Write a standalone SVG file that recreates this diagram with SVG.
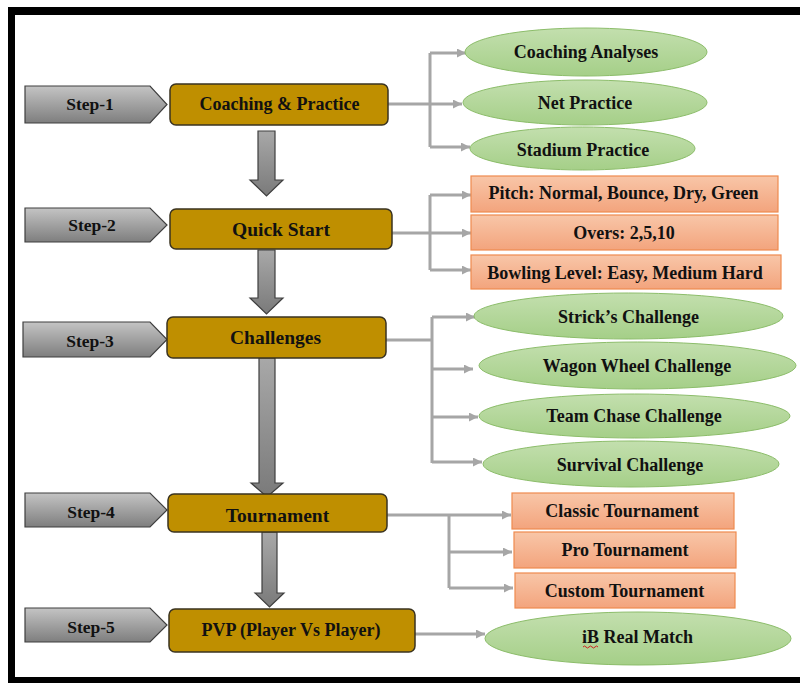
<svg xmlns="http://www.w3.org/2000/svg" width="800" height="683" viewBox="0 0 800 683">
<defs>
<linearGradient id="gStep" x1="0" y1="0" x2="0" y2="1"><stop offset="0" stop-color="#c4c4c4"/><stop offset="1" stop-color="#7e7e7e"/></linearGradient>
<linearGradient id="gDown" x1="0" y1="0" x2="0" y2="1"><stop offset="0" stop-color="#a8a8a8"/><stop offset="1" stop-color="#7a7a7a"/></linearGradient>
<linearGradient id="gEll" x1="0" y1="0" x2="0" y2="1"><stop offset="0" stop-color="#c3dfae"/><stop offset="1" stop-color="#a5cf88"/></linearGradient>
<linearGradient id="gRect" x1="0" y1="0" x2="0" y2="1"><stop offset="0" stop-color="#f8c6a8"/><stop offset="1" stop-color="#f3a47d"/></linearGradient>
<marker id="arr" viewBox="0 0 10 10" refX="10" refY="5" markerWidth="10" markerHeight="9" markerUnits="userSpaceOnUse" orient="auto"><path d="M0,0 L10,5 L0,10 z" fill="#a6a6a6"/></marker>
</defs>
<style>
.step{fill:url(#gStep);stroke:#3f3f3f;stroke-width:1.2}
.box{fill:#bf8f00;stroke:#3a3320;stroke-width:1.5}
.down{fill:url(#gDown);stroke:#3f3f3f;stroke-width:1.2}
.ell{fill:url(#gEll);stroke:#8cbd6a;stroke-width:1}
.rc{fill:url(#gRect);stroke:#ef8a4f;stroke-width:1.2}
.con{fill:none;stroke:#a6a6a6;stroke-width:3;marker-end:url(#arr)}
.ln{fill:none;stroke:#a6a6a6;stroke-width:3}
text{font-family:"Liberation Serif","Times New Roman",serif;font-weight:bold;fill:#111;text-anchor:middle}
.t18{font-size:18px}
.t19{font-size:19.5px}
.ts{font-size:17.5px}
</style>
<rect x="0" y="0" width="800" height="683" fill="#fff"/>
<g id="frame" fill="#000">
<rect x="8" y="7" width="792" height="8"/>
<rect x="8" y="7" width="7" height="676"/>
<rect x="8" y="677" width="792" height="6"/>
</g>

<g id="connectors">
<path class="ln" d="M388,104 H430 M430,53 V147"/>
<path class="con" d="M430,53 H466"/>
<path class="con" d="M430,104 H462"/>
<path class="con" d="M430,147 H470"/>
<path class="ln" d="M392,233 H430 M430,195 V270"/>
<path class="con" d="M430,195 H471"/>
<path class="con" d="M430,233 H471"/>
<path class="con" d="M430,270 H471"/>
<path class="ln" d="M386,340 H432 M432,317 V463"/>
<path class="con" d="M432,317 H475"/>
<path class="con" d="M432,369 H473"/>
<path class="con" d="M432,417 H478"/>
<path class="con" d="M432,462 H482"/>
<path class="ln" d="M449,515 V588"/>
<path class="con" d="M387,515 H511"/>
<path class="con" d="M449,552 H512"/>
<path class="con" d="M449,588 H513"/>
<path class="con" d="M415,634 H485"/>
<polygon class="down" points="258,131 275,131 275,180 283,180 266.5,196 250,180 258,180"/>
<polygon class="down" points="258,250 275,250 275,298 283,298 266.5,314 250,298 258,298"/>
<polygon class="down" points="259,358 275,358 275,483 283,483 267,497 251,483 259,483"/>
<polygon class="down" points="262,532 277,532 277,593 284,593 269.5,607 255,593 262,593"/>
</g>

<g id="step1"><polygon class="step" points="25,86 150,86 167,104.5 150,123 25,123"/><text class="ts" x="90" y="110">Step-1</text></g>
<g id="step2"><polygon class="step" points="25,208 150,208 167,225 150,242 25,242"/><text class="ts" x="92" y="231">Step-2</text></g>
<g id="step3"><polygon class="step" points="23,322 150,322 167,339.5 150,357 23,357"/><text class="ts" x="90" y="347">Step-3</text></g>
<g id="step4"><polygon class="step" points="25,493 150,493 167,510 150,527 25,527"/><text class="ts" x="91" y="518">Step-4</text></g>
<g id="step5"><polygon class="step" points="25,608 150,608 167,625 150,642 25,642"/><text class="ts" x="91" y="633">Step-5</text></g>

<g id="coaching"><rect class="box" x="170" y="84" width="218" height="41" rx="6"/><text class="t18" x="279.5" y="110">Coaching &amp; Practice</text></g>
<g id="quickstart"><rect class="box" x="170" y="209" width="222" height="40" rx="6"/><text class="t19" x="281" y="236">Quick Start</text></g>
<g id="challenges"><rect class="box" x="167" y="317" width="219" height="41" rx="6"/><text class="t19" x="275.5" y="344">Challenges</text></g>
<g id="tournament"><rect class="box" x="168" y="494" width="219" height="38" rx="6"/><text class="t19" x="277.5" y="522">Tournament</text></g>
<g id="pvp"><rect class="box" x="169" y="609" width="246" height="43" rx="6"/><text class="t18" x="291" y="636">PVP (Player Vs Player)</text></g>

<g id="coachingAnalyses"><ellipse class="ell" cx="586" cy="52" rx="121" ry="24"/><text class="t18" x="586" y="58">Coaching Analyses</text></g>
<g id="netPractice"><ellipse class="ell" cx="585" cy="102.5" rx="122" ry="22.5"/><text class="t18" x="585" y="109">Net Practice</text></g>
<g id="stadiumPractice"><ellipse class="ell" cx="582.5" cy="148.5" rx="112.5" ry="21.5"/><text class="t18" x="583" y="156">Stadium Practice</text></g>

<g id="pitch"><rect class="rc" x="471" y="176" width="307" height="36"/><text class="t18" x="623.5" y="199">Pitch: Normal, Bounce, Dry, Green</text></g>
<g id="overs"><rect class="rc" x="471" y="215" width="307" height="35"/><text class="t18" x="624" y="239">Overs: 2,5,10</text></g>
<g id="bowling"><rect class="rc" x="471" y="255" width="310" height="34"/><text class="t18" x="625" y="279">Bowling Level: Easy, Medium Hard</text></g>

<g id="strick"><ellipse class="ell" cx="628.5" cy="316" rx="154.5" ry="23"/><text class="t18" x="628.5" y="323">Strick’s Challenge</text></g>
<g id="wagon"><ellipse class="ell" cx="637.5" cy="365.5" rx="158.5" ry="23.5"/><text class="t18" x="637" y="372">Wagon Wheel Challenge</text></g>
<g id="teamChase"><ellipse class="ell" cx="634.5" cy="416" rx="155.5" ry="22"/><text class="t18" x="634" y="422">Team Chase Challenge</text></g>
<g id="survival"><ellipse class="ell" cx="631" cy="464" rx="148" ry="23"/><text class="t18" x="630" y="471">Survival Challenge</text></g>

<g id="classic"><rect class="rc" x="512" y="493" width="222" height="36"/><text class="t18" x="622" y="517">Classic Tournament</text></g>
<g id="pro"><rect class="rc" x="514" y="532" width="222" height="36"/><text class="t18" x="625" y="556">Pro Tournament</text></g>
<g id="custom"><rect class="rc" x="515" y="573" width="220" height="35"/><text class="t18" x="624.5" y="597">Custom Tournament</text></g>

<g id="ibReal"><ellipse class="ell" cx="638" cy="638.5" rx="153" ry="26.5"/><text class="t18" x="637.5" y="643">iB Real Match</text>
<path d="M583,647 q1.5,-2 3,0 t3,0 t3,0 t3,0 t3,0" fill="none" stroke="#d02020" stroke-width="1"/></g>
</svg>
